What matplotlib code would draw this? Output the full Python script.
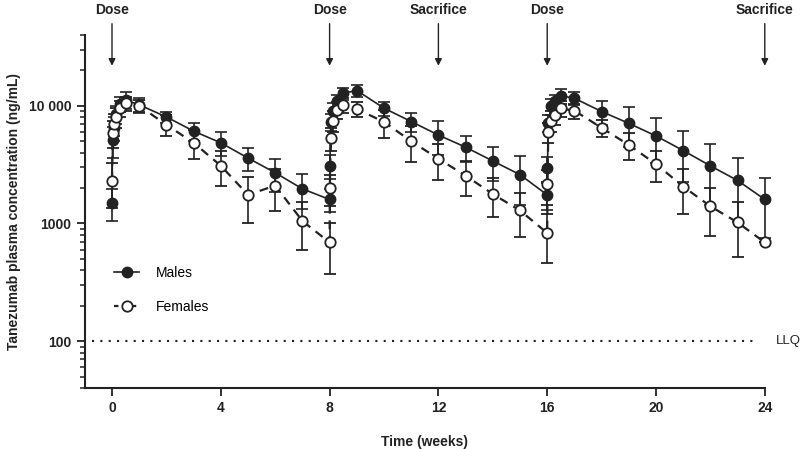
import matplotlib
matplotlib.use("Agg")
import matplotlib.pyplot as plt
from matplotlib.lines import Line2D
from matplotlib.ticker import FixedLocator, LogLocator, NullFormatter

plt.rcParams['font.family'] = ['Liberation Sans', 'DejaVu Sans']

# time in weeks (three dosing periods, dense sampling right after each dose)
weeks = [0, 0.02, 0.06, 0.14, 0.29, 0.5, 1,
         2, 3, 4, 5, 6, 7,
         8, 8.01, 8.04, 8.14, 8.29, 8.5, 9,
         10, 11, 12, 13, 14, 15,
         16, 16.01, 16.04, 16.14, 16.29, 16.5, 17,
         18, 19, 20, 21, 22, 23, 24]

males = [1500, 5100, 6500, 8500, 10300, 11200, 10200,
         8050, 6100, 4850, 3600, 2700, 1970,
         1600, 3100, 7300, 9000, 10900, 12800, 13500,
         9560, 7350, 5650, 4450, 3400, 2600,
         1750, 2950, 7200, 9900, 10900, 12200, 11600,
         8950, 7100, 5550, 4170, 3090, 2320, 1600]
males_sd = [450, 1500, 1500, 1500, 1500, 1800, 1500,
            900, 1100, 1100, 800, 850, 650,
            350, 700, 1200, 1500, 1500, 1500, 1500,
            1300, 1400, 1800, 1100, 1100, 1150,
            450, 700, 1200, 1500, 1500, 1800, 1500,
            2100, 2600, 2300, 1900, 1650, 1300, 850]

females = [2300, 5900, 7000, 8000, 9500, 10500, 10000,
           6900, 4850, 3100, 1750, 2100, 1050,
           690, 2000, 5300, 7500, 9200, 10200, 9400,
           7300, 5000, 3550, 2550, 1780, 1290,
           830, 2150, 6000, 7500, 8400, 9500, 9100,
           6500, 4650, 3200, 2060, 1400, 1020, 690]
females_sd = [950, 1500, 1500, 1500, 1500, 1500, 1200,
              1400, 1350, 1000, 750, 830, 460,
              320, 600, 1200, 1500, 1500, 1500, 1300,
              2000, 1700, 1200, 850, 640, 520,
              370, 700, 1200, 1500, 1500, 1500, 1300,
              1100, 1200, 960, 860, 620, 500, 0]

events = [(0, "Dose"), (8, "Dose"), (12, "Sacrifice"), (16, "Dose"), (24, "Sacrifice")]
llq = 100

ink = "#222222"

fig = plt.figure(figsize=(8, 4.49), dpi=100)
ax = fig.add_axes([0.106, 0.136, 0.850, 0.786])

ax.errorbar(weeks, males, yerr=males_sd, color=ink, lw=1.2, marker="o", ms=7.5,
            mfc=ink, mec=ink, capsize=4, elinewidth=1.2, capthick=1.2,
            clip_on=False, zorder=3)
ax.errorbar(weeks, females, yerr=females_sd, color=ink, lw=1.6, ls=(0, (4, 3)),
            marker="o", ms=7.5, mfc="white", mec=ink, mew=1.3, capsize=4,
            elinewidth=1.2, capthick=1.2, clip_on=False, zorder=4)

ax.axhline(llq, xmin=0.01, xmax=0.99, color=ink, lw=1.5, ls=(0, (1, 3)))
ax.text(24.4, llq, "LLQ", va="center", ha="left", fontsize=9.5, color=ink)

for t, lab in events:
    ax.annotate("", xy=(t, 0.905), xycoords=("data", "axes fraction"),
                xytext=(t, 1.04), textcoords=("data", "axes fraction"),
                arrowprops=dict(arrowstyle="-|>", color=ink, lw=1.0,
                                mutation_scale=10), annotation_clip=False)
    ax.text(t, 1.07, lab, transform=ax.get_xaxis_transform(), ha="center",
            va="center", fontsize=10, fontweight="bold", color=ink)

ax.set_yscale("log")
ax.set_ylim(40, 40000)
ax.set_xlim(-1, 24)
ax.set_xticks([0, 4, 8, 12, 16, 20, 24])
ax.yaxis.set_major_locator(FixedLocator([100, 1000, 10000]))
ax.set_yticklabels(["100", "1000", "10 000"])
ax.yaxis.set_minor_locator(LogLocator(base=10, subs=range(2, 10)))
ax.yaxis.set_minor_formatter(NullFormatter())

for s in ["top", "right"]:
    ax.spines[s].set_visible(False)
for s in ["left", "bottom"]:
    ax.spines[s].set_linewidth(1.5)
    ax.spines[s].set_color(ink)
ax.spines["bottom"].set_bounds(-1, 24)
ax.tick_params(which="major", length=6, width=1.3, colors=ink, labelsize=10)
ax.tick_params(which="minor", length=3.5, width=1.1, colors=ink)
for lbl in ax.get_xticklabels() + ax.get_yticklabels():
    lbl.set_fontweight("bold")

ax.set_xlabel("Time (weeks)", fontsize=10, fontweight="bold", color=ink, labelpad=14)
ax.set_ylabel("Tanezumab plasma concentration (ng/mL)", fontsize=10,
              fontweight="bold", color=ink, labelpad=6)

handles = [Line2D([], [], color=ink, lw=1.2, marker="o", ms=7.5, mfc=ink, mec=ink),
           Line2D([], [], color=ink, lw=1.6, ls=(0, (2, 2)), marker="o", ms=7.5,
                  mfc="white", mec=ink, mew=1.3)]
ax.legend(handles, ["Males", "Females"], loc="upper left",
          bbox_to_anchor=(0.025, 0.38), frameon=False, fontsize=10,
          handlelength=1.8, handletextpad=1.2, labelspacing=1.4)

fig.savefig("out.png", dpi=100)
